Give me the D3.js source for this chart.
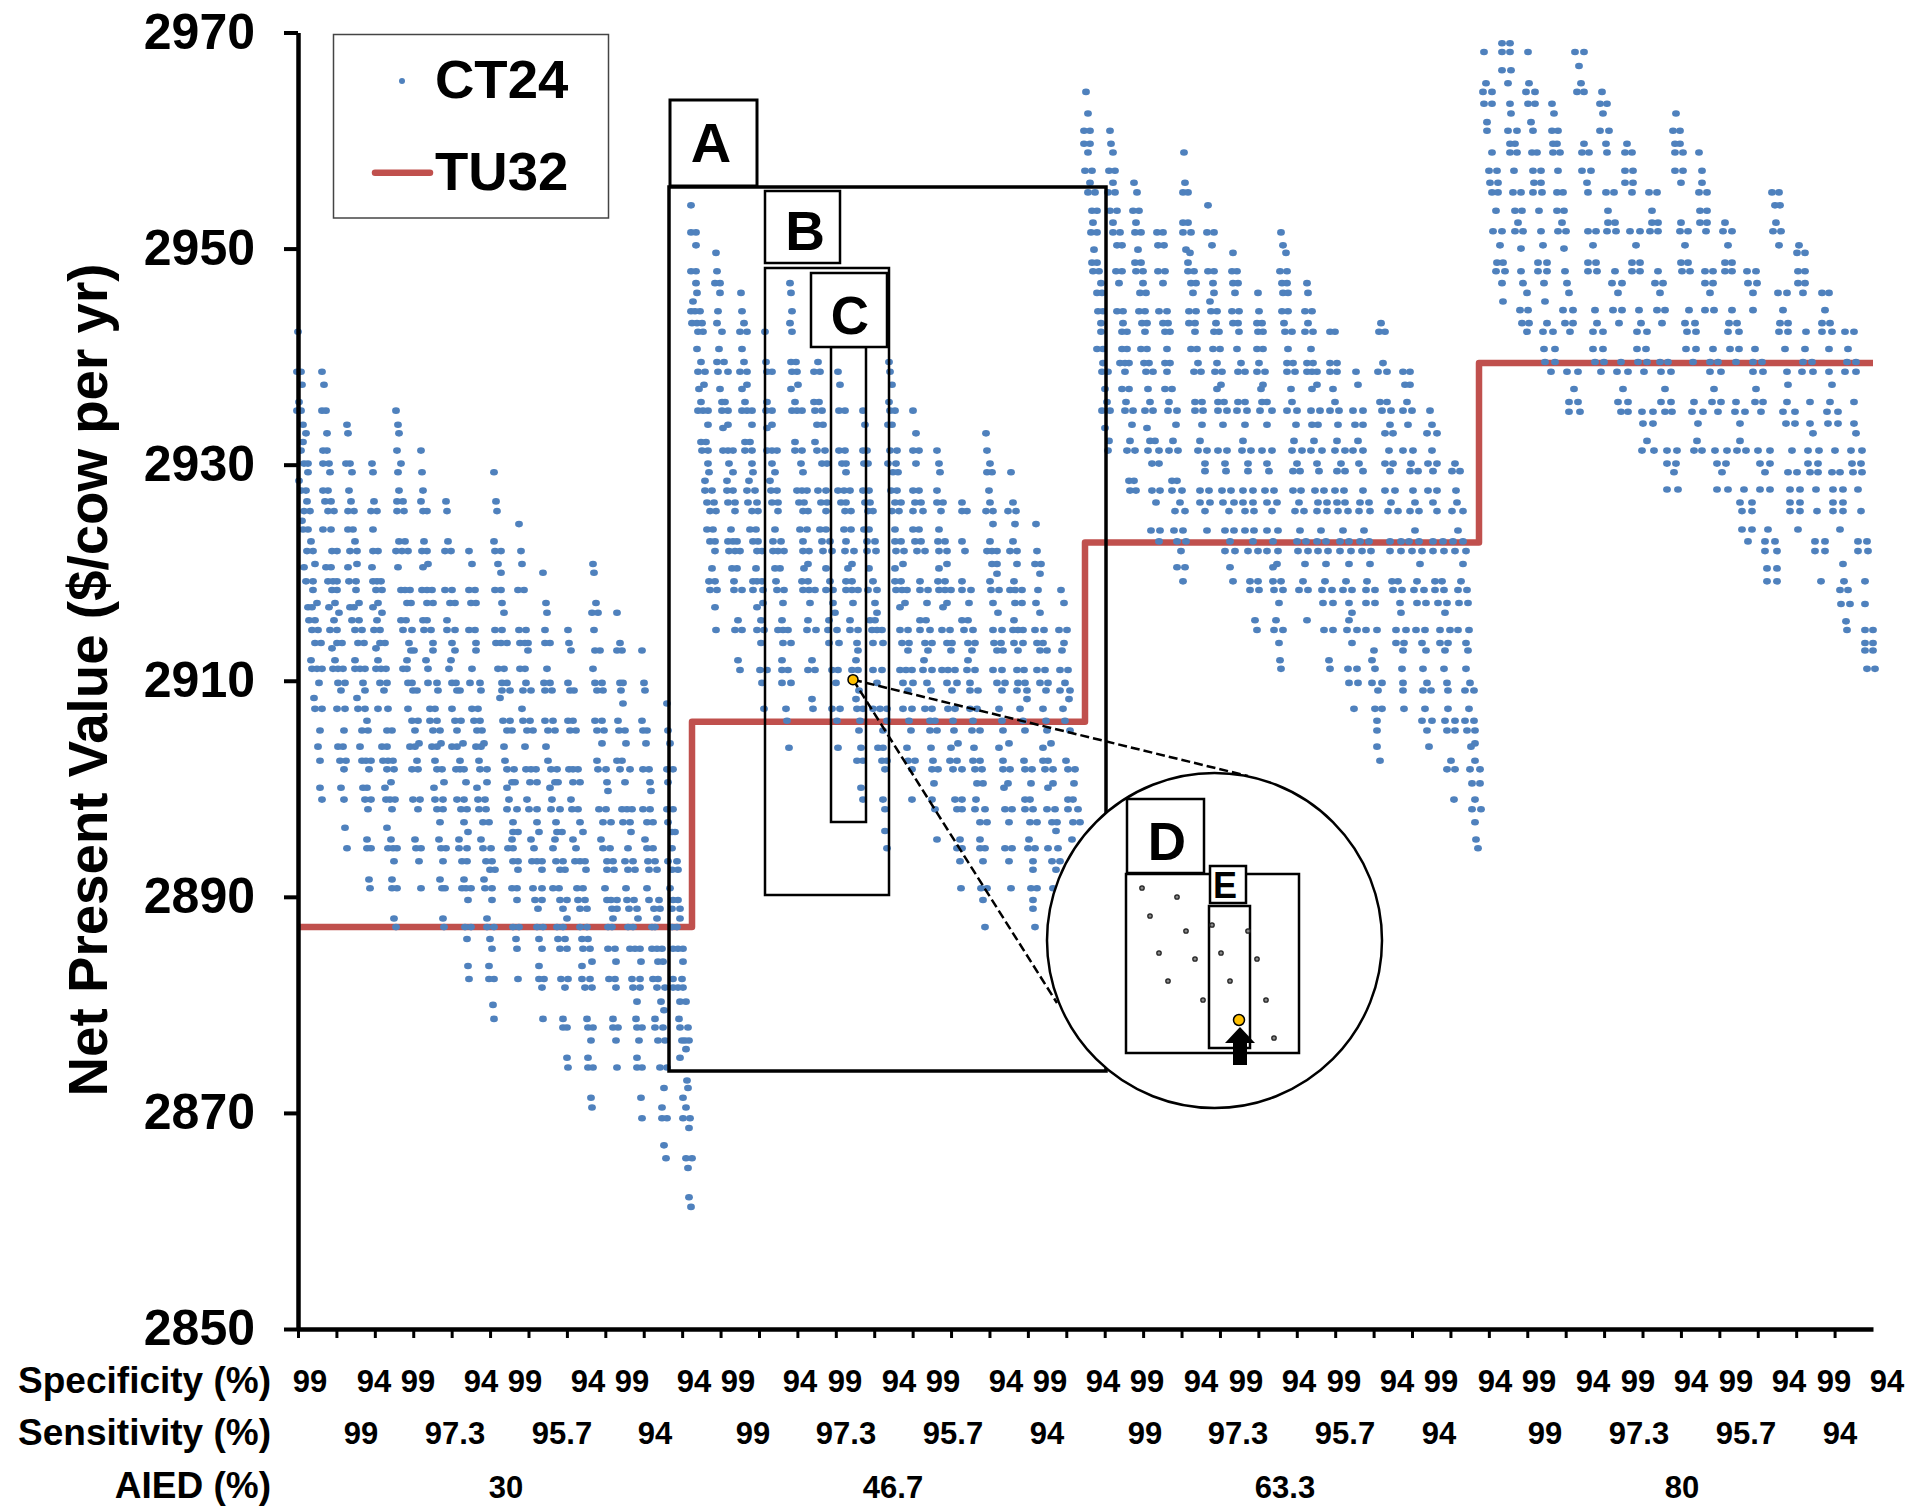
<!DOCTYPE html>
<html><head><meta charset="utf-8">
<script src="https://cdn.jsdelivr.net/npm/d3@7"></script>
<style>html,body{margin:0;padding:0;background:#fff}text{font-family:"Liberation Sans",Arial,sans-serif;font-weight:bold;fill:#000}</style>
</head><body><div id="chart"></div>
<script>
// NPV ($/cow per yr) rows: [npv, [scenario positions along the x axis]]
const ct24Aied30 = [
[2942.3,[0]],[2938.6,[-1,3,24]],[2937.4,[4,26]],[2935.8,[1]],[2935,[-1,3,24,28,98]],[2933.7,[5,49,100]],[2932.9,[8,29,50,101]],[2932.1,[5]],[2931.3,[3,25,29,99,123]],
[2930.1,[6,10,25,31,48,52,74,103]],[2929.3,[10,32,54,75,100,124,196]],[2928.5,[1]],[2927.6,[3,8,25,30,51,101,125]],[2926.6,[9,27,33,53,76,99,105,123,148,198]],
[2925.7,[6,12,30,36,50,56,73,79,99,106,125,129,149,199]],[2924.8,[4]],[2924.5,[221]],[2924,[5,10,25,33,50,55,75]],[2922.9,[13,57,101,107,126,150,196]],
[2922,[9,15,34,39,52,59,75,80,98,104,110,124,129,147,153,171,197,203,223]],[2920.8,[17,59,130,174,200,224,295]],[2920.5,[6,28,33,50,74,100,125]],[2920,[203,245,296]],
[2919.2,[8,15,30,35,39,51,58,75,79,83]],[2918.4,[15,34,39,58,78,84,103,107,112,124,129,134,147,154,171,177,197,203,220,226]],[2917.2,[19,37,61,80,109,113,129,135,152,157,173,178,204,248,298]],
[2916.8,[10,14,31,52,56,75]],[2916.3,[41,84,206,249,294,300,319]],[2915.6,[11,17,36,54,61,79,103,108,125,129,149]],
[2914.7,[14,20,32,39,57,64,76,82,105,114,126,133,149,157,171,177,197,204,221,228,247,270,296]],[2913.5,[17,23,39,44,60,66,82,87,111,135,154,178,198,203,209,222,227,230,247,252,271,322]],
[2913,[34,78]],[2912.8,[113,116,135,157,178,230,273,297,302,319,324,344]],[2911.9,[13,37,57,80,109,128,153]],
[2911.1,[14,19,24,35,40,45,57,62,67,78,83,88,105,109,130,151,174,200,206,222,227,249,295]],[2909.8,[21,40,47,65,82,89,110,114,130,139,154,158,172,182,204,209,228,246,252,270,297,304,322,325,346]],
[2909.1,[43,67,86,115,119,140,159,162,183,204,212,225,233,247,254,272,276,299,305,323,347]],[2908.4,[16,59,202]],[2907.9,[325,369]],
[2907.4,[17,24,39,47,60,67,80,90,110,132,137,154,174,180,224]],[2906.3,[69,114,120,132,139,157,163,176,182,205,212,225,232,247,255,270,275,297,304,320,344]],
[2905.4,[22,46,64,70,89,94,117,135,142,159,179,184,209,214,229,235,250,257,272,278,299,306,321,327,345,349,370]],[2904.2,[121,143,165,186,304,328,348,372]],
[2903.9,[20,40,45,62,84,89,112,117,134,139,154,159,178,183,206,227,248]],[2902.6,[22,42,48,64,68,73,85,90,95,119,137,162,181,207,250,299,319,324]],
[2901.8,[46,71,89,96,114,120,139,144,158,162,166,182,189,209,216,228,233,238,253,259,271,275,280,300,308,322,332,345,351,369,375]],[2900.6,[93,146,168,189,214,217,232,239,257,260,275,282,309,327,352,370]],
[2900.1,[22,43,65,69,87,136,179,209,252]],[2899.8,[310,353]],[2899,[24,46,67,73,88,92,97,115,122,137,145,159,166,180,187,211,229,254,273]],
[2898.1,[70,94,120,139,145,163,169,181,188,209,219,231,239,253,262,274,280,301,308,324,329,334,345,352,369,375]],[2896.9,[142,166,185,191,215,239,258,282,305,313,325,332,349,355,370]],
[2896.4,[47,89]],[2896,[170,215,220,241,259,264,285,333,374,377]],[2895.3,[69,93,117,141,161,183,214,233,257,275,303,347]],
[2894.5,[49,69,73,90,95,99,118,123,143,148,161,169,185,193,210,215,236,255,278,305,312,330,349,355,374]],[2893.3,[96,121,145,164,169,188,194,215,220,234,239,244,258,265,277,282,287,309,315,327,335,350,357,370,379]],
[2892.5,[192,197,220,244,262,267,288,309,316,330,337,351,359,374,380]],[2891.6,[71,94,142,166,186]],[2890.8,[72,94,99,123,144,147,164,168,173,187,194,214,219,235,244,255,261,279,285,307,328,349,372]],
[2889.7,[170,194,219,237,244,262,269,280,287,309,313,319,329,336,351,361,375,380]],[2888.9,[240,265,282,289,314,319,331,339,356,362,374,382]],[2888,[96,145,189,269,315,340,359,382]],
[2887.2,[98,146,167,173,189,196,215,221,239,245,259,265,282,289,310,314,330,335,354,357,374,379]],[2886.1,[169,192,218,241,260,267,284,290]],
[2885.2,[194,219,244,262,269,285,292,310,317,332,337,342,354,359,364,375,380,385]],[2884,[294,318,343,360,365,385]],[2883.6,[170,191,241,284]],
[2882.4,[171,191,196,220,241,246,263,270,284,292,311,317,334,342,355,360,375,384]],[2881.6,[244,267,287,294,318,335,342,359,367,375,380,385]],[2880.3,[339,363,382,388]],[2880,[195]],[2879.5,[366]],
[2878.7,[196,245,265,289,315,338,357,381]],[2877.9,[265,269,290,295,315,320,339,344,357,365,382,390]],[2876.7,[293,318,341,360,367,384,387,391]],[2875.9,[388]],[2875.1,[269,290,339,382]],
[2874.2,[270,290,295,319,339,344,362,369]],[2873,[389]],[2872.3,[366,390]],[2871.4,[293,343,385]],[2870.5,[294,364,388]],[2869.5,[344,364,369,385,392]],[2868.6,[391]],[2867,[366]],[2865.8,[368,388,394]],[2864.9,[390]],[2862.2,[391]],[2861.3,[393]]
];
const ct24Aied467 = [
[2954,[393]],[2951.5,[393,398]],[2950.3,[398]],[2949.6,[418]],[2947.9,[393,398,419]],[2946.8,[398,417,422,492]],[2945.9,[399,422,443,493]],[2945.1,[395]],[2944.2,[393,397,402,420,444,494]],
[2943.1,[394,399,404,419,446,492]],[2942.3,[400,405,424,442,449,467,494]],[2940.7,[399,421,444]],[2939.5,[403,419,426,446,468,493,498,520,591]],[2938.6,[400,407,420,430,442,449,469,474,494,499,516,522,540,592]],
[2937.4,[406,449,500,542,594]],[2937,[401,422,444,493]],[2935.8,[403,424,427,447,469,497,516,521,591]],[2935,[400,405,410,424,430,444,449,454,468,474,494,499,504,517,524,541,547,565,592,597,615]],
[2933.7,[410,430,454,474,519,525,567,590,594]],[2933.4,[425,469]],[2932.9,[618,688]],[2932.1,[403,408,447,452,497,517]],[2931.3,[404,410,425,430,435,447,454,469,474,479,497,504,519,527,541,547,565,569,592,599,615,621,639,689]],
[2930.1,[410,431,454,474,503,524,529,544,548,566,570,590,598,618,641,692]],[2929.3,[411,435,455,477,505,548,595,600,642,689,694,713]],[2928.5,[407,429,451,472]],
[2927.6,[407,414,429,435,449,457,473,479,499,504,509,520,528,540,546,552,565,571,593,599,615,621,639,691]],[2926.5,[409,416,430,437,450,459,474,480,501,506,523,529,543,548,567,572,597,603,617,623,639,645,664,692,715]],
[2925.7,[412,418,437,454,460,480,505,510,528,547,553,570,575,594,601,615,625,643,664,669,688,695,710,718]],[2924.5,[695,717,738]],[2924,[409,415,433,452,458,477,502,509,522,528,546,553,566,571,597,615,621,641]],
[2922.9,[412,417,430,435,439,455,460,475,483,505,524,532,548,569,577,597,603,617,623,640,647,664,692,715]],[2922,[417,431,437,442,459,464,475,480,486,505,511,525,534,547,556,569,578,598,606,619,627,641,649,667,689,694,699,712,719,739]],
[2920.8,[510,554,605,649,694,699,719,737,743]],[2920.4,[414,434,439,458,477,482,506,528,550,571,597,641]],[2919.9,[699,742]],[2919.2,[411,417,436,455,459,464,478,504,510,532,548,554,575,597,603,622,640,647,664,692,716]],
[2918.4,[412,419,436,444,455,465,479,486,505,511,517,528,535,548,554,560,570,579,598,604,609,622,630,641,647,653,664,673,693,701,712,717,724,740,763]],
[2917.2,[465,485,512,535,555,577,607,629,649,671,695,717,724,738,766]],[2916.8,[417,459,602,645]],[2916.3,[537,579,700,742]],[2915.6,[440,463,484,510,531,552,572,577,622,628,664,670,716]],
[2914.7,[418,437,444,459,466,480,485,490,509,518,530,539,552,560,574,579,584,602,610,622,632,644,652,666,675,695,704,715,720,725,737,746,761,769]],
[2913.5,[463,485,493,531,541,559,575,585,604,611,627,634,649,654,670,677,696,703,716,725,739,745,766]],[2912.8,[560,610,630,653,674,699,705,720,742,749,764]],[2911.9,[440,484,514,558,626,670]],
[2911,[442,462,469,484,490,510,517,534,540,554,560,575,584,602,608,614,625,634,644,650,657,669,677,695,704,719,726,739,747,762,770]],[2910.1,[555]],
[2909.8,[464,484,493,538,579,605,615,629,649,659,672,699,707,720,727,742,750,767]],[2909.1,[561,610,633,654,672,680,704,719,729,748,762,772]],[2908.3,[514,558,729,771]],
[2907.4,[466,488,515,534,542,559,565,575,582,589,605,614,627,634,650,657,672,679,701,722,745,765]],[2906.3,[489,539,562,589,611,632,637,655,675,704,725,748,767]],
[2905.4,[561,585,613,632,639,656,674,682,705,727,749,772]],[2904.2,[660,711,753]],[2903.8,[491,540,563,580,585,609,633,653,676,701,745]],[2902.6,[559,565,584,589,610,617,635,652,659,675,682,705,726,745,750,768]],
[2901.8,[587,614,634,640,655,664,677,684,705,712,727,734,747,755,770,777]],[2900.5,[636,679,685,710,733,755,776]],[2900.1,[563,706,750]],[2899,[565,585,614,634,657,664,678,727,732,770,775]],
[2898.1,[587,637,659,664,677,687,707,714,727,735,749,757,770,780]],[2896.9,[682,689,711,732,739,754,759,775,782]],[2896.1,[587,758]],[2895.3,[639,662,682,731,774]],
[2894.5,[589,659,664,682,687,707,714,730,737,750,760]],[2893.3,[662,685,711,735,754,762]],[2892.5,[735,758]],[2890.8,[663,683,689,713,733,739,755]],[2889.7,[685,735]],[2888.9,[735]],[2887.2,[687,737]]
];
const ct24Aied633 = [
[2964.5,[788]],[2962.5,[790]],[2960.9,[786,792,812]],[2959.7,[786,792,813]],[2958.9,[790,815,886]],[2957.2,[787,794,811,817]],[2956.1,[792,815,836,887]],[2955.2,[790,797,810,817,839,885,890]],[2954,[910]],
[2953.5,[794,799,812,819,835,841]],[2952.4,[795,815,838,885,890]],[2951.5,[793,799,815,822,837,843,859,865,885,893,909,916,983]],[2950.3,[819,824,860,866,914,985]],[2949.9,[796,840,888]],[2949.6,[892,935,988]],
[2948.7,[794,799,837,843,890]],[2947.9,[795,801,818,824,838,845,860,867,890,896,910,916,934,939,982,989]],[2946.8,[803,821,845,865,893,898,915,935,940,984,989,1009]],[2945.9,[799,804,842,848,895,916,937,960,985,990,1010]],[2945.1,[912]],
[2944.2,[800,805,819,825,841,847,861,869,891,898,913,919,934,941,961,984,990,1007,1014]],[2943.1,[803,825,844,849,865,870,891,897,918,935,940,959,964,986,1010,1083]],
[2942.3,[803,824,829,847,867,872,897,916,921,941,960,965,987,994,1007,1015,1032,1037,1081,1087]],[2940.7,[799,805,824,829,843,849,869,893,899,915,922,939,959,965,990,1013]],
[2939.4,[805,822,827,831,846,851,867,872,900,919,943,961,989,995,1009,1015,1032,1039,1085]],[2938.6,[804,810,827,848,855,869,896,903,917,924,940,947,959,967,989,997,1009,1014,1019,1032,1039,1058,1080,1089,1105,1112]],
[2937.4,[923,965,1019,1060,1107,1112]],[2937,[807,824,831,850,867,874,919,963,993,1014,1035]],[2935.8,[809,828,852,871,897,904,920,926,940,947,964,969,994,1037,1082,1089,1109]],
[2935,[804,812,827,835,847,855,870,879,897,905,920,929,939,949,962,974,989,999,1013,1022,1032,1041,1055,1065,1084,1093,1105,1114,1132]],[2933.7,[834,878,904,925,947,969,998,1014,1020,1040,1057,1065,1092,1110,1134]],
[2933.4,[807,849]],[2932.9,[1087,1095,1129,1139]],[2932.2,[811,832,852,857,875,902,945,996,1016,1039,1060]],[2931.3,[810,829,837,850,861,871,880,900,909,920,929,944,953,964,974,994,1004,1013,1024,1037,1047,1055,1065,1091,1105,1115,1134]],
[2930.1,[854,861,907,927,950,969,999,1019,1043,1061,1087,1095,1113,1130,1139,1157]],[2929.4,[907,928,950,971,995,1002,1021,1039,1047,1065,1092,1112,1120,1135,1154,1162]],[2928.5,[831,836,874,879]],
[2927.6,[832,838,854,862,874,884,902,911,924,933,945,955,967,976,995,1003,1017,1026,1037,1046,1065,1087,1097,1115,1130,1139,1158]],[2926.5,[858,882,902,912,925,936,945,955,969,979,1001,1020,1029,1039,1047,1062,1071,1093,1117,1135,1159]],
[2925.7,[877,887,907,931,947,956,974,997,1006,1019,1029,1040,1050,1061,1072,1090,1100,1112,1121,1139,1154,1165]],[2923.9,[853,862,876,885,909,927,936,947,956,969,980,1002,1023,1045,1066,1117,1160]],
[2922.9,[861,879,888,932,955,975,999,1008,1019,1028,1042,1051,1062,1071,1092,1103,1111,1121,1135,1145,1155,1165]],[2922,[883,927,937,950,960,969,980,1000,1010,1020,1030,1042,1053,1064,1073,1092,1103,1114,1124,1135,1146,1157,1168]],
[2920.8,[979,1007,1028,1051,1072,1122,1165]],[2920.5,[879,887,932,975]],[2919.2,[885,935,952,960,975,983,1005,1027,1048,1069,1094,1100,1119,1137,1144,1163]],
[2918.4,[952,961,976,985,1001,1010,1024,1034,1045,1054,1068,1077,1095,1104,1116,1126,1137,1146,1160,1169]],[2917.2,[981,1025,1035,1051,1068,1077,1102,1119,1128,1140,1149,1161,1170]],[2916.3,[1054,1103,1147]],[2915.6,[957,978,1009,1051]],
[2914.7,[959,976,985,1026,1035,1049,1059,1068,1079,1098,1108,1118,1127,1142,1152,1160,1171]],[2913.5,[981,1054,1098,1106,1124,1142,1150,1168]],[2912.8,[1076,1105,1128,1147,1170]],[2911.9,[982,1031,1074]],
[2911.1,[983,1032,1050,1059,1077,1104,1125,1146,1168]],[2909.8,[1051,1060,1074,1084,1105,1129,1149,1172]],[2909.1,[1080,1105,1125,1133,1150,1167,1176]],[2907.4,[1056,1077,1084,1106,1127,1150,1171]],
[2906.3,[1079,1124,1134,1147,1157,1167,1176]],[2905.4,[1079,1129,1149,1157,1169,1177]],[2904.2,[1177]],[2903.9,[1079,1131,1173]],[2902.6,[1082,1153,1177]],[2901.8,[1149,1157,1172,1182]],[2900.5,[1174,1182]],
[2899,[1156,1177]],[2898.1,[1174,1183]],[2896.9,[1177]],[2895.3,[1178]],[2894.5,[1180]]
];
const ct24Aied80 = [
[2969,[1204,1212]],[2968.2,[1186,1204,1212,1230,1277,1286]],[2966.9,[1281]],[2966.5,[1204,1213]],[2965.3,[1188,1210,1231,1283]],[2964.5,[1185,1194,1228,1237,1279,1286,1304]],[2963.4,[1186,1194,1212,1230,1237,1254,1302,1309]],
[2962.5,[1213,1256,1305,1378]],[2961.7,[1189,1233]],[2960.9,[1189,1210,1219,1235,1254,1260,1302,1311,1375,1382]],[2959.7,[1212,1217,1255,1259,1286,1308,1329,1377,1382]],
[2958.9,[1194,1212,1219,1234,1239,1255,1262,1284,1291,1309,1327,1334,1377,1385,1401]],[2957.2,[1191,1199,1216,1235,1243,1260,1284,1293,1327,1335,1377,1385,1404]],[2956.1,[1192,1200,1236,1243,1289,1327,1335,1383,1404]],
[2955.2,[1194,1200,1215,1223,1235,1244,1259,1265,1290,1308,1316,1334,1351,1359,1401,1409,1474,1481]],[2954,[1477,1482]],[2953.5,[1198,1217,1224,1241,1259,1266,1310,1354,1402,1409]],
[2952.4,[1220,1264,1310,1317,1354,1360,1383,1402,1409,1427,1478]],[2951.6,[1195,1204,1217,1225,1243,1260,1268,1290,1298,1309,1318,1332,1342,1352,1360,1382,1390,1408,1425,1434,1475,1483]],
[2950.3,[1202,1245,1295,1338,1387,1430,1481,1501]],[2950,[1223,1266]],[2949.6,[1499,1507]],[2948.7,[1199,1205,1240,1249,1290,1298,1334,1342,1383,1390,1427,1434]],
[2947.9,[1198,1207,1223,1240,1249,1267,1290,1299,1317,1334,1342,1360,1384,1392,1407,1415,1427,1434,1449,1458,1500,1507]],[2946.8,[1204,1225,1246,1269,1314,1324,1357,1365,1407,1415,1450,1459,1500,1507]],
[2945.9,[1229,1271,1320,1362,1412,1455,1480,1489,1505,1524,1531]],[2945.1,[1205,1247]],[2944.3,[1222,1230,1265,1275,1297,1315,1324,1341,1359,1367,1391,1407,1416,1434,1455,1485,1527]],
[2943.1,[1224,1231,1249,1267,1275,1299,1321,1343,1364,1387,1397,1431,1439,1482,1490,1524,1532]],[2942.3,[1229,1245,1255,1272,1295,1305,1339,1349,1389,1398,1430,1441,1481,1490,1508,1524,1534,1547,1556]],
[2940.7,[1246,1257,1295,1305,1339,1348,1388,1398,1415,1432,1441,1457,1487,1507,1531,1550]],[2939.5,[1247,1257,1297,1306,1323,1340,1349,1362,1370,1395,1412,1420,1438,1455,1464,1505,1514,1549,1558]],
[2938.6,[1253,1269,1280,1303,1319,1330,1346,1363,1373,1412,1423,1455,1465,1489,1504,1515,1531,1547,1558]],[2937.4,[1490,1534]],[2937,[1276,1325,1367,1416,1458]],
[2935.8,[1271,1280,1320,1330,1363,1373,1396,1414,1423,1438,1457,1465,1489,1512,1532,1556]],[2934.9,[1271,1282,1323,1330,1344,1355,1367,1374,1394,1405,1420,1437,1447,1463,1485,1497,1529,1540]],
[2933.8,[1345,1355,1400,1442,1488,1497,1512,1530,1540,1556]],[2932.9,[1515,1558]],[2932.2,[1349,1399,1442]],[2931.3,[1344,1356,1369,1379,1396,1404,1417,1429,1439,1448,1460,1472,1494,1510,1521,1537,1553,1564]],
[2930.1,[1369,1378,1419,1428,1462,1472,1510,1520,1554,1563]],[2929.3,[1376,1424,1467,1490,1499,1512,1520,1534,1542,1555,1564]],[2927.7,[1369,1380,1419,1430,1446,1462,1472,1492,1502,1518,1535,1545,1560]],
[2926.5,[1442,1454,1492,1502,1535,1545]],[2925.7,[1444,1454,1492,1502,1519,1535,1545,1563]],[2924,[1444,1454,1470,1500,1542]],[2922.9,[1450,1467,1477,1517,1527,1560,1569]],[2922,[1467,1479,1517,1527,1560,1570]],
[2920.8,[1545]],[2920.4,[1469,1479]],[2919.2,[1469,1479,1523,1546,1567]],[2918.4,[1542,1550]],[2917.1,[1543,1552,1567]],[2915.5,[1548]],[2914.7,[1549,1567,1575]],[2913.5,[1567,1575]],[2912.8,[1567,1575]],[2911.1,[1569,1577]]
];
const tu32Steps = [[0,2887.2],[394,2887.2],[394,2906.2],[787,2906.2],[787,2922.8],[1181,2922.8],[1181,2939.4],[1575,2939.4]];
const highlighted = [555,2910.1];

const yTicks = [2850,2870,2890,2910,2930,2950,2970];
const xTickCount = 41;
const specificityLabels = d3.range(32).map(i => i % 2 ? "94" : "99");
const sensitivityLabels = ["99","97.3","95.7","94","99","97.3","95.7","94","99","97.3","95.7","94","99","97.3","95.7","94"];
const aiedLabels = ["30","46.7","63.3","80"];
const specificityAt = [12,76,120,183,227,290,334,396,440,502,547,601,645,708,752,805,849,903,948,1001,1046,1099,1143,1197,1241,1295,1340,1393,1438,1491,1536,1589];
const sensitivityAt = [63,157,264,357,455,548,655,749,847,940,1047,1141,1247,1341,1448,1542];
const aiedAt = [208,595,987,1384];

const W = 1913, H = 1506;
const svg = d3.select("#chart").append("svg").attr("width",W).attr("height",H).style("display","block");
const x = d3.scaleLinear().domain([0,1575]).range([298,1873]);
const y = d3.scaleLinear().domain([2850,2970]).range([1329,32.5]);

// TU32 line
svg.append("path").datum(tu32Steps)
  .attr("d", d3.line().x(d=>x(d[0])).y(d=>y(d[1])))
  .attr("fill","none").attr("stroke","#C0504D").attr("stroke-width",6.5).attr("stroke-linejoin","round");

// CT24 points
const pts = [...ct24Aied30,...ct24Aied467,...ct24Aied633,...ct24Aied80].flatMap(([v,xs])=>xs.map(p=>[p,v]));
svg.append("g").selectAll("ellipse").data(pts).join("ellipse")
  .attr("cx",d=>x(d[0])).attr("cy",d=>y(d[1])).attr("rx",3.9).attr("ry",3.3).attr("fill","#4F81BD");

// Axes
const yAxis = d3.axisLeft(y).tickValues(yTicks).tickSize(14).tickSizeOuter(0).tickPadding(29).tickFormat(d3.format("d"));
const gy = svg.append("g").attr("transform",`translate(${x(0)},0)`).call(yAxis);
gy.selectAll("text").style("font-size","50px").attr("dy","15.5px");
gy.selectAll("line").attr("stroke","#000").attr("stroke-width",4);
gy.select(".domain").attr("stroke","#000").attr("stroke-width",4.5);
const xAxis = d3.axisBottom(x).tickValues(d3.range(xTickCount).map(i=>i*1575/xTickCount)).tickSize(9).tickSizeOuter(0).tickFormat("");
const gx = svg.append("g").attr("transform",`translate(0,${y(2850)})`).call(xAxis);
gx.selectAll("line").attr("stroke","#000").attr("stroke-width",3);
gx.select(".domain").attr("stroke","#000").attr("stroke-width",4.5);

// Category rows
function row(labels,pos,base){
  svg.append("g").selectAll("text").data(labels).join("text")
    .attr("x",(d,i)=>x(pos[i])).attr("y",base).attr("text-anchor","middle")
    .style("font-size","31px").text(d=>d);
}
row(specificityLabels,specificityAt,1392);
row(sensitivityLabels,sensitivityAt,1444);
row(aiedLabels,aiedAt,1498);
[["Specificity (%)",1393],["Sensitivity (%)",1445],["AIED (%)",1498]].forEach(([t,b])=>{
  svg.append("text").attr("x",271).attr("y",b).attr("text-anchor","end").style("font-size","37px").text(t);
});
svg.append("text").attr("transform","translate(107,680) rotate(-90)").attr("text-anchor","middle").style("font-size","54.7px").text("Net Present Value ($/cow per yr)");

// Legend
svg.append("rect").attr("x",333.5).attr("y",34.5).attr("width",275).attr("height",183.5).attr("fill","#fff").attr("stroke","#444").attr("stroke-width",1.5);
svg.append("circle").attr("cx",402).attr("cy",81).attr("r",3).attr("fill","#4F81BD");
svg.append("line").attr("x1",375).attr("x2",430).attr("y1",172.7).attr("y2",172.7).attr("stroke","#C0504D").attr("stroke-width",6.5).attr("stroke-linecap","round");
svg.append("text").attr("x",435).attr("y",98).style("font-size","54.5px").text("CT24");
svg.append("text").attr("x",435).attr("y",190).style("font-size","54.5px").text("TU32");

// Nested-region annotation boxes
function box(x0,y0,x1,y1,sw,fill){
  svg.append("rect").attr("x",x0).attr("y",y0).attr("width",x1-x0).attr("height",y1-y0)
    .attr("fill",fill||"none").attr("stroke","#000").attr("stroke-width",sw);
}
function letter(t,cx,base,size){
  svg.append("text").attr("x",cx).attr("y",base).attr("text-anchor","middle").style("font-size",size+"px").text(t);
}
box(669,187,1106,1071,3.5);
box(670,100,757,186,3,"#fff"); letter("A",711,162,56);
box(765,268,889,895,2.5);
box(765,191,840,263,2.5,"#fff"); letter("B",805,250,55);
box(831,347,866,822,2.5);
box(811,273,887,347,2.5,"#fff"); letter("C",850,334,53);

// Zoom lens
const hx = x(highlighted[0]), hy = y(highlighted[1]);
const dash = [[1248,776],[1057,1003]];
dash.forEach(p=>svg.append("line").attr("x1",hx).attr("y1",hy).attr("x2",p[0]).attr("y2",p[1])
  .attr("stroke","#000").attr("stroke-width",2.5).attr("stroke-dasharray","9,4"));
svg.append("circle").attr("cx",hx).attr("cy",hy).attr("r",5).attr("fill","#FFC000").attr("stroke","#000").attr("stroke-width",1.5);
svg.append("circle").attr("cx",1214.5).attr("cy",940.5).attr("r",167.5).attr("fill","#fff").attr("stroke","#000").attr("stroke-width",2.5);
box(1126,874,1299,1053,2.5);
box(1127,799,1204,873,2.5,"#fff"); letter("D",1167,860,53);
box(1209,906,1250,1048,2.5);
box(1210,866,1246,903,2.5,"#fff"); letter("E",1225,898,36);

const insetOffsetX = [16,51,24,60,33,69,42,77,86,122,95,131,104,140,148];
const insetOffsetY = [14,23,42,57,79,85,107,126,51,57,79,85,107,126,164];
const ix = d3.scaleLinear().domain([0,173]).range([1126,1299]);
const iy = d3.scaleLinear().domain([0,179]).range([874,1053]);
svg.append("g").selectAll("circle").data(insetOffsetX).join("circle")
  .attr("cx",d=>ix(d)).attr("cy",(d,i)=>iy(insetOffsetY[i])).attr("r",2.2).attr("fill","#888").attr("stroke","#222").attr("stroke-width",1.3);
svg.append("circle").attr("cx",ix(113)).attr("cy",iy(146)).attr("r",5.5).attr("fill","#FFC000").attr("stroke","#000").attr("stroke-width",1.5);
svg.append("path").attr("d","M1240,1027L1255,1043L1247,1043L1247,1065L1233,1065L1233,1043L1225,1043Z").attr("fill","#000");
</script></body></html>
